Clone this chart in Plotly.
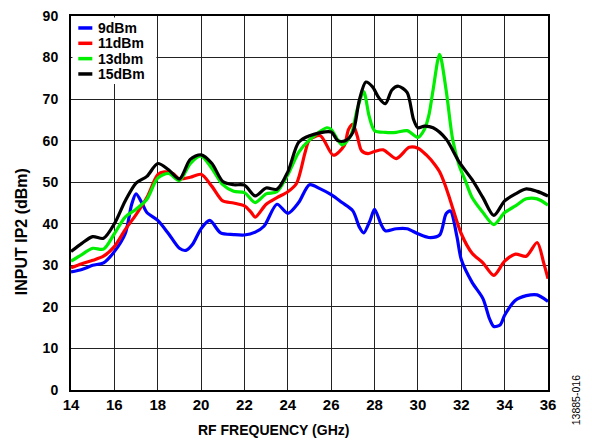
import plotly.graph_objects as go

freq_9 = [14, 14.5, 15, 15.5, 16, 16.5, 16.8, 17, 17.3, 17.5, 18, 18.5, 19, 19.3, 19.6, 20, 20.4, 20.9, 21.5, 22, 22.5, 22.9, 23.5, 24, 24.5, 25, 25.5, 26, 26.5, 27, 27.3, 27.5, 27.8, 28, 28.3, 28.5, 29, 29.5, 30, 30.5, 31, 31.3, 31.5, 31.8, 32, 32.5, 33, 33.3, 33.5, 33.8, 34, 34.5, 35, 35.5, 36]
ip2_9 = [28.4, 29.0, 30.0, 30.6, 33.3, 37.6, 44.7, 47.2, 44.7, 42.7, 40.8, 37.6, 34.1, 33.6, 35.0, 38.8, 40.8, 37.8, 37.4, 37.3, 38.0, 39.4, 44.7, 42.5, 45.1, 49.4, 48.4, 47.0, 45.1, 43.1, 39.2, 37.8, 40.9, 43.5, 39.9, 38.3, 38.8, 38.8, 37.6, 36.7, 37.3, 42.4, 43.1, 36.9, 31.4, 25.9, 22.0, 17.2, 15.3, 15.7, 18.0, 21.6, 22.7, 22.9, 21.3]

freq_11 = [14, 14.5, 15, 15.5, 16, 16.5, 17, 17.5, 18, 18.3, 18.7, 19, 19.5, 20, 20.5, 21, 21.5, 22, 22.3, 22.5, 23, 23.5, 24, 24.4, 24.8, 25, 25.5, 26.1, 26.6, 26.8, 27, 27.2, 27.4, 27.7, 28, 28.4, 29, 29.6, 30, 30.4, 30.8, 31, 31.25, 31.5, 32, 32.5, 33, 33.5, 34, 34.5, 35, 35.5, 35.8, 36]
ip2_11 = [29.4, 30.4, 31.2, 32.2, 34.5, 38.6, 42.2, 46.3, 51.8, 52.5, 52.1, 50.8, 51.2, 51.9, 49.0, 45.5, 45.0, 44.3, 42.8, 41.6, 44.7, 46.3, 47.7, 49.7, 57.2, 60.2, 61.2, 56.5, 58.8, 62.7, 63.9, 61.2, 57.6, 56.9, 57.4, 57.8, 55.7, 58.4, 58.2, 56.5, 54.1, 52.5, 49.4, 45.5, 37.6, 32.9, 30.6, 27.6, 31.0, 32.7, 32.2, 35.5, 30.6, 26.8]

freq_13 = [14, 14.5, 15, 15.5, 16, 16.5, 17, 17.5, 18, 18.5, 19, 19.5, 20, 20.5, 21, 21.5, 22, 22.5, 23, 23.5, 24, 24.5, 25, 25.8, 26, 26.5, 26.9, 27.2, 27.5, 27.75, 28, 28.5, 29, 29.5, 30, 30.3, 30.5, 30.7, 31, 31.3, 31.6, 31.9, 32.2, 32.5, 33, 33.5, 34, 34.5, 35, 35.5, 36]
ip2_13 = [31.0, 32.6, 34.1, 33.9, 37.6, 41.6, 43.5, 45.9, 51.0, 52.1, 50.4, 54.5, 56.3, 53.3, 49.4, 47.8, 47.5, 45.1, 47.2, 47.7, 51.8, 57.2, 60.2, 63.1, 62.7, 59.0, 61.2, 67.5, 71.8, 65.9, 62.4, 62.0, 62.0, 62.4, 60.8, 62.7, 66.0, 72.2, 80.8, 72.2, 60.4, 54.1, 50.2, 46.3, 42.7, 39.8, 42.7, 44.3, 46.0, 46.0, 44.5]

freq_15 = [14, 14.5, 15, 15.5, 16, 16.5, 17, 17.5, 18, 18.5, 19, 19.5, 20, 20.5, 21, 21.5, 22, 22.5, 23, 23.5, 24, 24.5, 25, 26, 26.3, 26.65, 27, 27.3, 27.6, 27.9, 28.2, 28.5, 28.8, 29.1, 29.5, 29.8, 30, 30.3, 30.7, 31.3, 31.9, 32.5, 33, 33.5, 34, 34.5, 35, 35.5, 36]
ip2_15 = [33.3, 35.3, 36.9, 36.5, 40.0, 45.5, 49.8, 51.4, 54.5, 53.0, 50.8, 55.5, 56.6, 54.5, 50.2, 49.4, 49.3, 46.7, 48.6, 48.3, 52.5, 59.6, 61.2, 62.1, 60.0, 60.0, 62.0, 69.8, 74.1, 73.0, 70.3, 68.9, 72.2, 73.1, 71.6, 65.1, 63.1, 63.5, 63.1, 60.4, 54.9, 50.6, 46.3, 42.0, 45.5, 47.2, 48.4, 47.8, 46.7]

series_names = ["9dBm", "11dBm", "13dbm", "15dBm"]
series_colors = ["#0000ff", "#ff0000", "#00ee00", "#000000"]
x_ticks = list(range(14, 37, 2))
y_ticks = list(range(0, 91, 10))

FONT = "Liberation Sans"

fig = go.Figure()
for name, color, xs, ys in zip(series_names, series_colors,
                               [freq_9, freq_11, freq_13, freq_15],
                               [ip2_9, ip2_11, ip2_13, ip2_15]):
    fig.add_trace(go.Scatter(x=xs, y=ys, mode="lines", name=name, showlegend=False,
                             line=dict(color=color, width=3.2, shape="spline", smoothing=0.8)))

fig.update_layout(
    width=584, height=439,
    margin=dict(l=63, r=44, t=8, b=57),
    paper_bgcolor="white", plot_bgcolor="white",
    font=dict(family=FONT, size=13, color="black"),
    showlegend=False,
    xaxis=dict(range=[14, 36], tickvals=x_ticks, ticktext=[str(v) for v in x_ticks],
               showgrid=True, gridcolor="#222222", gridwidth=1.3,
               showline=True, linecolor="black", linewidth=2, mirror=True,
               ticks="", zeroline=False, automargin=False, ticklabeloverflow="allow",
               tickfont=dict(family=FONT, size=15, weight="bold")),
    yaxis=dict(range=[0, 90], tickvals=y_ticks, ticktext=[str(v) for v in y_ticks],
               showgrid=True, gridcolor="#222222", gridwidth=1.3,
               showline=True, linecolor="black", linewidth=2, mirror=True,
               ticks="", zeroline=False, automargin=False, ticklabelstandoff=8,
               ticklabeloverflow="allow",
               tickfont=dict(family=FONT, size=14, weight="bold")),
)

# axis titles
fig.add_annotation(text="<b>RF FREQUENCY (GHz)</b>", xref="paper", yref="paper",
                   x=0.425, y=-0.107, showarrow=False, xanchor="center", yanchor="middle",
                   font=dict(family=FONT, size=14, color="black"))
fig.add_annotation(text="<b>INPUT IP2 (dBm)</b>", xref="paper", yref="paper",
                   x=-0.104, y=0.423, showarrow=False, xanchor="center", yanchor="middle",
                   textangle=-90, font=dict(family=FONT, size=16, color="black"))

# legend (drawn in the top-left of the plot area)
fig.add_shape(type="rect", xref="paper", yref="paper", x0=0.003, x1=0.179, y0=0.818, y1=0.996,
              fillcolor="white", line=dict(width=0), layer="above")
legend_rows = [0.968, 0.927, 0.886, 0.845]
for name, color, yrow in zip(series_names, series_colors, legend_rows):
    fig.add_shape(type="line", xref="paper", yref="paper", x0=0.0153, x1=0.0447, y0=yrow, y1=yrow,
                  line=dict(color=color, width=3.5), layer="above")
    fig.add_annotation(text="<b>%s</b>" % name, xref="paper", yref="paper", x=0.055, y=yrow,
                       showarrow=False, xanchor="left", yanchor="middle", borderpad=0,
                       font=dict(family=FONT, size=14, color="black"))

fig.add_annotation(text="13885-016", xref="paper", yref="paper", x=1.059, y=-0.027,
                   textangle=-90, showarrow=False, xanchor="center", yanchor="middle",
                   font=dict(family=FONT, size=10.5, color="black"))
fig.write_html("out.html")
